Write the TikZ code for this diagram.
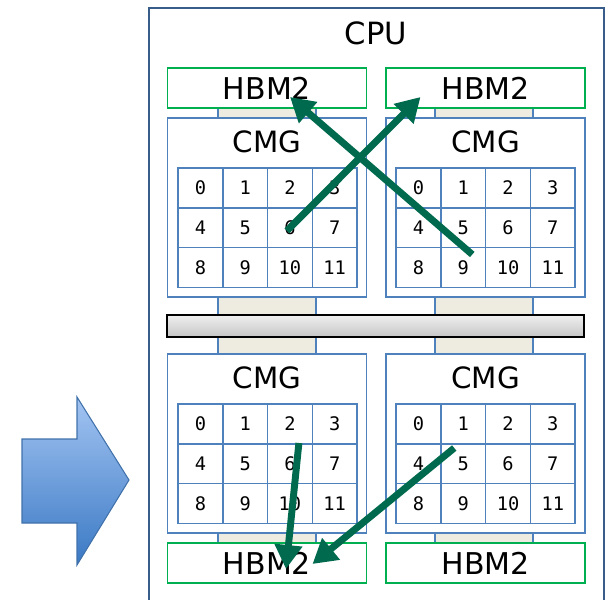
\documentclass[tikz,border=0pt]{standalone}
\usepackage{fontspec}
\setsansfont{DejaVu Sans}
\setmonofont{DejaVu Sans Mono}
\usetikzlibrary{calc,arrows.meta}
\definecolor{cpublue}{RGB}{56,93,138}
\definecolor{cmgblue}{RGB}{79,129,189}
\definecolor{hbmgreen}{RGB}{0,176,80}
\definecolor{pathgreen}{RGB}{0,106,78}
\definecolor{tanbg}{RGB}{238,236,225}
\definecolor{arrowtop}{RGB}{163,196,242}
\definecolor{arrowbot}{RGB}{58,121,196}
\definecolor{arrowline}{RGB}{65,113,170}
\tikzset{
	hbm/.style={draw=hbmgreen, line width=1.2pt, fill=white, minimum width=149.25pt, minimum height=30pt, inner sep=0pt, font=\sffamily\fontsize{22.5}{22.5}\selectfont},
	cmg/.style={draw=cmgblue, line width=1.2pt, fill=white, minimum width=149.25pt, minimum height=134.25pt, inner sep=0pt},
	cmgname/.style={font=\sffamily\fontsize{22}{22}\selectfont, inner sep=0pt},
	core/.style={draw=cmgblue, line width=1.1pt, minimum width=33.56pt, minimum height=29.8pt, inner sep=0pt, font=\ttfamily\fontsize{14}{14}\selectfont},
	link/.style={draw=cmgblue, line width=1pt, fill=tanbg},
	route/.style={draw=pathgreen, line width=5.2pt, -{Triangle[length=18pt,width=20pt]}}
}

\begin{document}
\begin{tikzpicture}[x=0.75pt, y=-0.75pt]
		%%%%% START %%%%%
		\useasboundingbox (0, 0) rectangle (613, 599);
		\clip (0, 0) rectangle (613, 599);
		
		% block arrow
		\draw[arrowline, line width=0.8pt, top color=arrowtop, bottom color=arrowbot]
			(22, 439) -- (77, 439) -- (77, 397) -- (129, 480) -- (77, 565) -- (77, 523) -- (22, 523) -- cycle;
		
		% cpu
		\draw[cpublue, line width=1.1pt] (149, 8) rectangle (604, 640);
		\node[font=\sffamily\fontsize{23}{23}\selectfont, inner sep=0pt] (cpu) at (376, 33) {CPU};
		
		% links between hbm, cmg and bus
		\draw[link] (218, 104) rectangle (316, 122);
		\draw[link] (435, 104) rectangle (533, 122);
		\draw[link] (218, 293) rectangle (316, 358);
		\draw[link] (435, 293) rectangle (533, 358);
		\draw[link] (218, 529) rectangle (316, 547);
		\draw[link] (435, 529) rectangle (533, 547);
		
		\draw[black, line width=1.2pt, top color=gray!12, bottom color=gray!45] (167, 315) rectangle (584, 337);
		
		% hbm
		\node[hbm] (hbm-tl) at (267, 88) {HBM2};
		\node[hbm] (hbm-tr) at (485.5, 88) {HBM2};
		\node[hbm] (hbm-bl) at (267, 563) {HBM2};
		\node[hbm] (hbm-br) at (485.5, 563) {HBM2};
		
		% cmg
		\node[cmg] (tl) at (267, 207.5) {};
		\node[cmg] (tr) at (485.5, 207.5) {};
		\node[cmg] (bl) at (267, 443.5) {};
		\node[cmg] (br) at (485.5, 443.5) {};
		\foreach \g in {tl, tr, bl, br}
			\node[cmgname] (\g-name) at ($(\g.north)+(0, 25)$) {CMG};
		
		% cores
		\foreach \gx/\gy/\g in {200.4/188/tl, 418.5/188/tr, 200.4/424/bl, 418.5/424/br} {
			\foreach \n in {0,...,11} {
				\pgfmathtruncatemacro{\col}{mod(\n,4)}
				\pgfmathtruncatemacro{\row}{\n/4}
				\node[core] (\g-\n) at (\gx+\col*44.75, \gy+\row*39.75) {\n};
			}
		}
		
		% routes
		\coordinate (s1) at ($(tr-9.center)+(9, -13)$);
		\coordinate (e1) at ($(hbm-tl.center)+(23, 9)$);
		\coordinate (s2) at ($(tl-6.center)+(-3, 3)$);
		\coordinate (e2) at ($(hbm-tr.center)+(-65, 9)$);
		\coordinate (s3) at ($(bl-2.center)+(9, 19)$);
		\coordinate (e3) at ($(hbm-bl.center)+(19, 6)$);
		\coordinate (s4) at ($(br-1.center)+(-9, 24)$);
		\coordinate (e4) at ($(hbm-br.center)+(-173, 1)$);
		\draw[route] (s1) -- (e1);
		\draw[route] (s2) -- (e2);
		\draw[route] (s3) -- (e3);
		\draw[route] (s4) -- (e4);
		%%%%% END %%%%%
	\end{tikzpicture}
\end{document}
